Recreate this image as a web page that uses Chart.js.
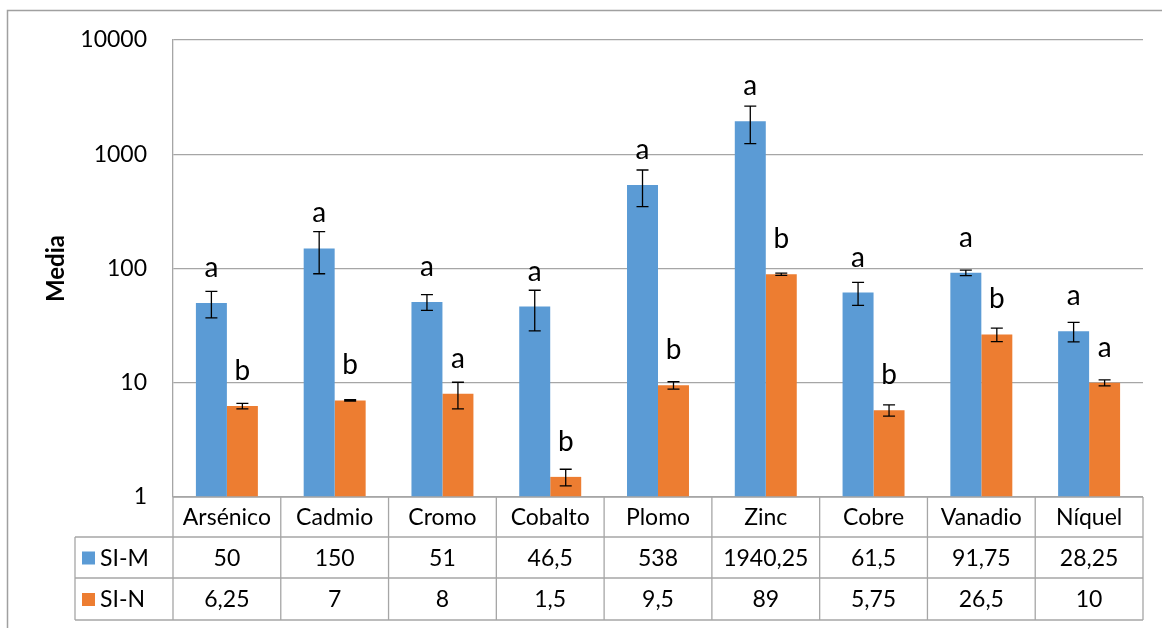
<!DOCTYPE html>
<html>
<head>
<meta charset="utf-8">
<script src="https://cdn.jsdelivr.net/npm/chart.js@4"></script>
<style>
  html, body { margin: 0; padding: 0; background: #fff; }
  #wrap { width: 1162px; height: 628px; position: relative; }
</style>
</head>
<body>
<div id="wrap"><canvas id="chart"></canvas></div>
<script>
const metals = ['Arsénico', 'Cadmio', 'Cromo', 'Cobalto', 'Plomo', 'Zinc', 'Cobre', 'Vanadio', 'Níquel'];
const siM = [50, 150, 51, 46.5, 538, 1940.25, 61.5, 91.75, 28.25];
const siN = [6.25, 7, 8, 1.5, 9.5, 89, 5.75, 26.5, 10];
// error bar half widths
const errM = [13, 60, 8, 18, 190, 700, 14, 5, 5.5];
const errN = [0.35, 0.1, 2.1, 0.25, 0.7, 2, 0.65, 3.6, 0.6];
// significance letters
const letM = ['a', 'a', 'a', 'a', 'a', 'a', 'a', 'a', 'a'];
const letN = ['b', 'b', 'a', 'b', 'b', 'b', 'b', 'b', 'a'];
const yTicks = [1, 10, 100, 1000, 10000];

const BLUE = '#5b9bd5';
const ORANGE = '#ed7d31';
const GRID = '#a6a6a6';
const FONT = 'Lato, "Open Sans", sans-serif';

function fmt(v) {
    return String(v).replace('.', ',');
}

const extras = {
    id: 'extras',
    beforeDraw(chart) {
        const ctx = chart.ctx;
        ctx.save();
        ctx.strokeStyle = '#a0a0a0';
        ctx.lineWidth = 1.5;
        ctx.beginPath();
        ctx.moveTo(7.5, 628);
        ctx.lineTo(7.5, 10.5);
        ctx.lineTo(1162, 10.5);
        ctx.stroke();
        ctx.restore();
    },
    afterDatasetsDraw(chart) {
        const ctx = chart.ctx;
        const y = chart.scales.y;
        const errs = [errM, errN];
        const lets = [letM, letN];
        ctx.save();
        for (let d = 0; d < 2; d++) {
            const meta = chart.getDatasetMeta(d);
            const vals = chart.data.datasets[d].data;
            meta.data.forEach(function (bar, i) {
                const top = y.getPixelForValue(vals[i] + errs[d][i]);
                const bot = y.getPixelForValue(vals[i] - errs[d][i]);
                ctx.strokeStyle = '#000';
                ctx.lineWidth = 1.3;
                ctx.beginPath();
                ctx.moveTo(bar.x, top);
                ctx.lineTo(bar.x, bot);
                ctx.moveTo(bar.x - 6, top);
                ctx.lineTo(bar.x + 6, top);
                ctx.moveTo(bar.x - 6, bot);
                ctx.lineTo(bar.x + 6, bot);
                ctx.stroke();
                ctx.fillStyle = '#000';
                ctx.font = '28px ' + FONT;
                ctx.textAlign = 'center';
                ctx.textBaseline = 'middle';
                ctx.fillText(lets[d][i], bar.x, bar.y - 35);
            });
        }
        ctx.restore();
    },
    afterDraw(chart) {
        // data table under the plot
        const ctx = chart.ctx;
        const x = chart.scales.x;
        const area = chart.chartArea;
        const half = (area.right - area.left) / metals.length / 2;
        const r0 = area.bottom, r1 = r0 + 40, r2 = r1 + 41, r3 = r2 + 42;
        const legL = 75;
        ctx.save();
        ctx.strokeStyle = GRID;
        ctx.lineWidth = 1.3;
        ctx.beginPath();
        ctx.moveTo(area.left, r0); ctx.lineTo(area.right, r0);
        [r1, r2, r3].forEach(function (r) { ctx.moveTo(legL, r); ctx.lineTo(area.right, r); });
        ctx.moveTo(legL, r1); ctx.lineTo(legL, r3);
        ctx.moveTo(area.left, r0); ctx.lineTo(area.left, r3);
        metals.forEach(function (m, i) {
            const xr = x.getPixelForValue(i) + half;
            ctx.moveTo(xr, r0); ctx.lineTo(xr, r3);
        });
        ctx.stroke();

        ctx.fillStyle = '#000';
        ctx.font = '23px ' + FONT;
        ctx.textAlign = 'center';
        ctx.textBaseline = 'middle';
        metals.forEach(function (m, i) {
            const cx = x.getPixelForValue(i);
            ctx.fillText(m, cx, (r0 + r1) / 2 + 1);
            ctx.fillText(fmt(siM[i]), cx, (r1 + r2) / 2 + 1);
            ctx.fillText(fmt(siN[i]), cx, (r2 + r3) / 2 + 1);
        });
        const series = [['SI-M', BLUE, (r1 + r2) / 2], ['SI-N', ORANGE, (r2 + r3) / 2]];
        ctx.textAlign = 'left';
        series.forEach(function (s) {
            ctx.fillStyle = s[1];
            ctx.fillRect(82, s[2] - 6, 13, 13);
            ctx.fillStyle = '#000';
            ctx.fillText(s[0], 100, s[2] + 1);
        });
        ctx.restore();
    }
};

const ctx = document.getElementById('chart').getContext('2d');
new Chart(ctx, {
    type: 'bar',
    data: {
        labels: metals,
        datasets: [
            { label: 'SI-M', data: siM, backgroundColor: BLUE },
            { label: 'SI-N', data: siN, backgroundColor: ORANGE }
        ]
    },
    options: {
        responsive: true,
        maintainAspectRatio: false,
        animation: false,
        layout: { padding: { left: 40, right: 19, top: 40, bottom: 131 } },
        datasets: { bar: { categoryPercentage: 0.575, barPercentage: 1.0 } },
        plugins: { legend: { display: false }, tooltip: { enabled: false } },
        scales: {
            x: { display: false },
            y: {
                type: 'logarithmic',
                min: 1,
                max: 10000,
                afterBuildTicks: function (scale) {
                    scale.ticks = yTicks.map(function (v) { return { value: v }; });
                },
                afterFit: function (scale) { scale.width = 133; },
                grid: { color: GRID, lineWidth: 1.3, drawTicks: false },
                border: { color: GRID, width: 1.3 },
                ticks: {
                    padding: 26,
                    color: '#000',
                    font: { family: FONT, size: 23 },
                    callback: function (v) { return String(v); }
                },
                title: {
                    display: true,
                    text: 'Media',
                    color: '#000',
                    padding: { top: 2, bottom: 2 },
                    font: { family: FONT, size: 24, weight: 'bold' }
                }
            }
        }
    },
    plugins: [extras]
});
</script>
</body>
</html>
